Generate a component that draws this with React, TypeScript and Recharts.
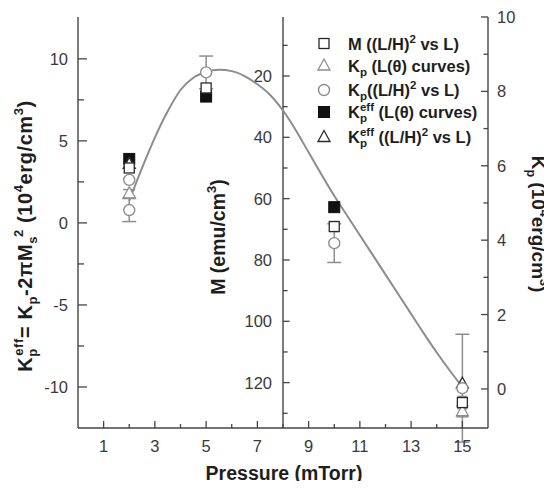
import React from 'react';
import { ComposedChart, Line, Scatter, XAxis, YAxis, ErrorBar, ReferenceLine, Legend } from 'recharts';

const FONT = '"Liberation Sans", Arial, Helvetica, sans-serif';
const AXIS = '#454545';
const DARK = '#2a2a2a';
const GRAY = '#8d8d8d';
const TICK_TEXT = '#3a3a3a';

// Fit curve (read in K_p^eff units, left axis)
const curvePressure = [2.0, 2.5, 3.0, 3.5, 4.0, 4.5, 5.0, 5.5, 6.0, 6.5, 7.0, 7.5, 8.0, 8.5, 9.0, 9.5, 10.0, 10.5, 11.0, 11.5, 12.0, 12.5, 13.0, 13.5, 14.0, 14.5, 15.0];
const curveKeff = [1.35, 3.35, 5.2, 6.8, 8.1, 8.85, 9.2, 9.33, 9.25, 8.95, 8.45, 7.8, 6.85, 5.65, 4.3, 2.95, 1.65, 0.45, -0.75, -1.95, -3.15, -4.35, -5.55, -6.75, -7.9, -8.98, -10.0];

// K_p^eff (L(theta) curves) - filled squares, left axis
const keffLthetaP = [2, 5, 10];
const keffLthetaV = [3.9, 7.7, 0.96];

// K_p^eff ((L/H)^2 vs L) - open dark triangles, left axis
const keffLHP = [2, 15];
const keffLHV = [3.6, -9.8];

// K_p (L(theta) curves) - grey triangles, right axis
const kpLthetaP = [2, 15];
const kpLthetaV = [5.26, -0.6];
const kpLthetaErr = [0.1, 0.15];

// K_p ((L/H)^2 vs L) - grey circles, right axis
const kpLHP = [2, 2, 5, 10, 15];
const kpLHV = [5.62, 4.81, 8.51, 3.92, 0.02];
const kpLHErr = [0, 0.31, 0.44, 0.52, 1.45];

// M ((L/H)^2 vs L) - open squares, middle (reversed) axis
const mP = [2, 5, 10, 15];
const mV = [50, 23.9, 69.1, 126.5];
const mErr = [1.2, 1.2, 1.6, 2.0];

// ticks
const bottomTicks = [1, 2, 3, 4, 5, 6, 7, 8, 9, 10, 11, 12, 13, 14, 15];
const topTicks = [0.5, 1, 1.5, 2, 2.5, 3, 3.5, 4, 4.5, 5, 5.5, 6, 6.5, 7, 7.5, 8, 8.5, 9, 9.5, 10, 10.5, 11, 11.5, 12, 12.5, 13, 13.5, 14, 14.5, 15, 15.5];
const leftTicks = [-10, -7.5, -5, -2.5, 0, 2.5, 5, 7.5, 10];
const rightTicks = [0, 1, 2, 3, 4, 5, 6, 7, 8, 9, 10];
const mTicks = [10, 20, 30, 40, 50, 60, 70, 80, 90, 100, 110, 120, 130];

const zip = (xs: number[], ys: number[], es?: number[]) =>
  xs.map((x, i) => ({ x, y: ys[i], err: es && es[i] ? es[i] : undefined }));

const curveData = zip(curvePressure, curveKeff);
const keffLthetaData = zip(keffLthetaP, keffLthetaV);
const keffLHData = zip(keffLHP, keffLHV);
const kpLthetaData = zip(kpLthetaP, kpLthetaV, kpLthetaErr);
const kpLHData = zip(kpLHP, kpLHV, kpLHErr);
const mData = zip(mP, mV, mErr);

const OpenSquare = (cx: number, cy: number) => (
  <rect x={cx - 5} y={cy - 5} width={10} height={10} fill="#fff" stroke={DARK} strokeWidth={1.3} />
);
const FilledSquare = (cx: number, cy: number) => (
  <rect x={cx - 5.5} y={cy - 5.5} width={11} height={11} fill="#111" stroke="#111" strokeWidth={1} />
);
const Tri = (cx: number, cy: number, color: string) => (
  <polygon points={`${cx},${cy - 6.5} ${cx + 6},${cy + 4.5} ${cx - 6},${cy + 4.5}`} fill="#fff" stroke={color} strokeWidth={1.3} />
);
const Circ = (cx: number, cy: number) => (
  <circle cx={cx} cy={cy} r={5.5} fill="#fff" stroke={GRAY} strokeWidth={1.4} />
);

const tickText = { fontFamily: FONT, fontSize: 16.5, fill: TICK_TEXT } as const;

const BottomTick = (p: any) => {
  const v = p.payload.value;
  const major = v % 2 === 1;
  return (
    <g>
      <line x1={p.x} x2={p.x} y1={p.y} y2={p.y - (major ? 7 : 4)} stroke={AXIS} strokeWidth={1.3} />
      {major && (
        <text x={p.x} y={p.y + 24} textAnchor="middle" {...tickText}>{v}</text>
      )}
    </g>
  );
};

const TopTick = (p: any) => {
  const v = p.payload.value;
  const major = Number.isInteger(v);
  return <line x1={p.x} x2={p.x} y1={p.y} y2={p.y + (major ? 6 : 3.5)} stroke={AXIS} strokeWidth={1.2} />;
};

const LeftTick = (p: any) => {
  const v = p.payload.value;
  const major = v % 5 === 0;
  return (
    <g>
      <line x1={p.x} x2={p.x + (major ? 9 : 6)} y1={p.y} y2={p.y} stroke={AXIS} strokeWidth={1.3} />
      {major && (
        <text x={p.x - 10} y={p.y + 6} textAnchor="end" {...tickText}>{v}</text>
      )}
    </g>
  );
};

const RightTick = (p: any) => {
  const v = p.payload.value;
  const major = v % 2 === 0;
  return (
    <g>
      <line x1={p.x} x2={p.x - (major ? 7 : 4.5)} y1={p.y} y2={p.y} stroke={AXIS} strokeWidth={1.3} />
      {major && (
        <text x={p.x + 9} y={p.y + 6} textAnchor="start" {...tickText}>{v}</text>
      )}
    </g>
  );
};

const titleStyle = { fontFamily: FONT, fontWeight: 'bold', fill: '#1e1e1e' } as const;
const TF = 20;
const SF = 13;

const LeftTitle = () => (
  <text transform="translate(24,228) rotate(-90)" textAnchor="middle" fontSize={TF} letterSpacing={0.6} {...titleStyle}>
    <tspan>K</tspan>
    <tspan dy={5} fontSize={SF}>p</tspan>
    <tspan dx={-7.5} dy={-14} fontSize={SF}>eff</tspan>
    <tspan dy={9} fontSize={TF}>= K</tspan>
    <tspan dy={5} fontSize={SF}>p</tspan>
    <tspan dy={-5} fontSize={TF}>-2πM</tspan>
    <tspan dy={5} fontSize={SF}>s</tspan>
    <tspan dx={-1} dy={-14} fontSize={SF}>2</tspan>
    <tspan dy={9} fontSize={TF}> (10</tspan>
    <tspan dy={-9} fontSize={SF}>4</tspan>
    <tspan dy={9} fontSize={TF}>erg/cm</tspan>
    <tspan dy={-9} fontSize={SF}>3</tspan>
    <tspan dy={9} fontSize={TF}>)</tspan>
  </text>
);

const RightTitle = () => (
  <text transform="translate(524,216) rotate(90)" textAnchor="middle" fontSize={19} {...titleStyle}>
    <tspan>K</tspan>
    <tspan dy={5} fontSize={12.5}>p</tspan>
    <tspan dy={-5} fontSize={19}> (10</tspan>
    <tspan dy={-8} fontSize={12.5}>4</tspan>
    <tspan dy={8} fontSize={19}>erg/cm</tspan>
    <tspan dy={-8} fontSize={12.5}>3</tspan>
    <tspan dy={8} fontSize={19}>)</tspan>
  </text>
);

const BottomTitle = () => (
  <text x={276} y={472} textAnchor="middle" fontSize={19.5} {...titleStyle}>Pressure (mTorr)</text>
);

const MidTitle = () => (
  <text transform="translate(217,229) rotate(-90)" textAnchor="middle" fontSize={19.5} {...titleStyle}>
    <tspan>M (emu/cm</tspan>
    <tspan dy={-9} fontSize={SF}>3</tspan>
    <tspan dy={9} fontSize={19.5}>)</tspan>
  </text>
);

const MidLabel = (props: any) => {
  const vb = props.viewBox || {};
  const x = vb.x ?? vb.x1;
  const y = vb.y ?? vb.y1;
  return (
    <text x={x - 11} y={y + 6} textAnchor="end" {...tickText}>{props.value}</text>
  );
};

const LEG_FS = 16.5;
const SUB_FS = 11.5;
const legendRowsY = [15.5, 37.5, 62, 84, 109];

const LegendContent = () => {
  const tx = 40;
  const sx = 16;
  const ts = { fontFamily: FONT, fontWeight: 'bold', fontSize: LEG_FS, fill: '#1e1e1e' } as const;
  const y = legendRowsY;
  return (
    <svg width={200} height={125} style={{ overflow: 'visible', display: 'block' }}>
      {OpenSquare(sx, y[0])}
      <text x={tx} y={y[0] + 6} {...ts}>
        <tspan>M ((L/H)</tspan>
        <tspan dy={-7} fontSize={SUB_FS}>2</tspan>
        <tspan dy={7} fontSize={LEG_FS}> vs L)</tspan>
      </text>
      {Tri(sx, y[1], GRAY)}
      <text x={tx} y={y[1] + 6} {...ts}>
        <tspan>K</tspan>
        <tspan dy={4} fontSize={SUB_FS}>p</tspan>
        <tspan dy={-4} fontSize={LEG_FS}> (L(θ) curves)</tspan>
      </text>
      {Circ(sx, y[2])}
      <text x={tx} y={y[2] + 6} {...ts}>
        <tspan>K</tspan>
        <tspan dy={4} fontSize={SUB_FS}>p</tspan>
        <tspan dy={-4} fontSize={LEG_FS}>((L/H)</tspan>
        <tspan dy={-7} fontSize={SUB_FS}>2</tspan>
        <tspan dy={7} fontSize={LEG_FS}> vs L)</tspan>
      </text>
      {FilledSquare(sx, y[3])}
      <text x={tx} y={y[3] + 6} {...ts}>
        <tspan>K</tspan>
        <tspan dy={4} fontSize={SUB_FS}>p</tspan>
        <tspan dx={-7} dy={-11} fontSize={SUB_FS}>eff</tspan>
        <tspan dy={7} fontSize={LEG_FS}> (L(θ) curves)</tspan>
      </text>
      {Tri(sx, y[4], DARK)}
      <text x={tx} y={y[4] + 6} {...ts}>
        <tspan>K</tspan>
        <tspan dy={4} fontSize={SUB_FS}>p</tspan>
        <tspan dx={-7} dy={-11} fontSize={SUB_FS}>eff</tspan>
        <tspan dy={7} fontSize={LEG_FS}> ((L/H)</tspan>
        <tspan dy={-7} fontSize={SUB_FS}>2</tspan>
        <tspan dy={7} fontSize={LEG_FS}> vs L)</tspan>
      </text>
    </svg>
  );
};

export default function App() {
  return (
    <div style={{ width: 544, height: 481, marginBottom: -8 }}>
      <ComposedChart width={544} height={481} margin={{ top: 9, right: 0, bottom: 0, left: 0 }}>
        <XAxis
          xAxisId={0}
          type="number"
          dataKey="x"
          domain={[0, 16]}
          ticks={bottomTicks}
          interval={0}
          allowDataOverflow
          height={61}
          tickLine={false}
          tickSize={0}
          tickMargin={0}
          tick={(p: any) => <BottomTick {...p} />}
          axisLine={{ stroke: AXIS, strokeWidth: 1.4 }}
          label={() => <BottomTitle />}
        />
        <XAxis
          xAxisId="top"
          orientation="top"
          type="number"
          dataKey="x"
          domain={[0, 16]}
          ticks={topTicks}
          interval={0}
          allowDataOverflow
          height={0}
          tickLine={false}
          tickSize={0}
          tickMargin={0}
          tick={(p: any) => <TopTick {...p} />}
          axisLine={{ stroke: AXIS, strokeWidth: 1.4 }}
        />
        <YAxis
          yAxisId="left"
          orientation="left"
          type="number"
          dataKey="y"
          domain={[-12.5, 12.55]}
          ticks={leftTicks}
          interval={0}
          allowDataOverflow
          width={70}
          tickLine={false}
          tickSize={0}
          tickMargin={0}
          tick={(p: any) => <LeftTick {...p} />}
          axisLine={{ stroke: AXIS, strokeWidth: 1.4 }}
          label={() => <LeftTitle />}
        />
        <YAxis
          yAxisId="right"
          orientation="right"
          type="number"
          dataKey="y"
          domain={[-1.05, 10]}
          ticks={rightTicks}
          interval={0}
          allowDataOverflow
          width={64}
          tickLine={false}
          tickSize={0}
          tickMargin={0}
          tick={(p: any) => <RightTick {...p} />}
          axisLine={{ stroke: AXIS, strokeWidth: 1.4 }}
          label={() => <RightTitle />}
        />
        <YAxis yAxisId="m" hide reversed type="number" dataKey="y" domain={[0.76, 134.8]} allowDataOverflow />

        <ReferenceLine
          x={8}
          yAxisId="left"
          stroke={AXIS}
          strokeWidth={1.4}
          ifOverflow="visible"
          label={() => <MidTitle />}
        />
        {mTicks.map((v) => (
          <ReferenceLine
            key={`mt${v}`}
            yAxisId="m"
            segment={[{ x: 8, y: v }, { x: v % 20 === 0 ? 8.26 : 8.18, y: v }]}
            stroke={AXIS}
            strokeWidth={1.3}
            ifOverflow="visible"
            label={v % 20 === 0 ? (p: any) => <MidLabel {...p} value={v} /> : undefined}
          />
        ))}

        <Line
          data={curveData}
          dataKey="y"
          yAxisId="left"
          type="monotone"
          stroke={GRAY}
          strokeWidth={2}
          dot={false}
          isAnimationActive={false}
        />
        <Scatter
          name="Kpeff L(theta)"
          data={keffLthetaData}
          yAxisId="left"
          isAnimationActive={false}
          shape={(p: any) => FilledSquare(p.cx, p.cy)}
        />
        <Scatter
          name="Kpeff (L/H)^2"
          data={keffLHData}
          yAxisId="left"
          isAnimationActive={false}
          shape={(p: any) => Tri(p.cx, p.cy, DARK)}
        />
        <Scatter
          name="Kp L(theta)"
          data={kpLthetaData}
          yAxisId="right"
          isAnimationActive={false}
          shape={(p: any) => Tri(p.cx, p.cy, GRAY)}
        >
          <ErrorBar dataKey="err" direction="y" width={6} stroke={GRAY} strokeWidth={1.5} />
        </Scatter>
        <Scatter
          name="Kp (L/H)^2"
          data={kpLHData}
          yAxisId="right"
          isAnimationActive={false}
          shape={(p: any) => Circ(p.cx, p.cy)}
        >
          <ErrorBar dataKey="err" direction="y" width={7} stroke={GRAY} strokeWidth={1.5} />
        </Scatter>
        <Scatter
          name="M (L/H)^2"
          data={mData}
          yAxisId="m"
          isAnimationActive={false}
          shape={(p: any) => OpenSquare(p.cx, p.cy)}
        >
          <ErrorBar dataKey="err" direction="y" width={5} stroke={GRAY} strokeWidth={1.5} />
        </Scatter>
        <Legend
          layout="vertical"
          align="center"
          verticalAlign="middle"
          content={() => <LegendContent />}
          wrapperStyle={{ left: 300, top: 20, width: 200, height: 125, lineHeight: 0 }}
        />
      </ComposedChart>
    </div>
  );
}
